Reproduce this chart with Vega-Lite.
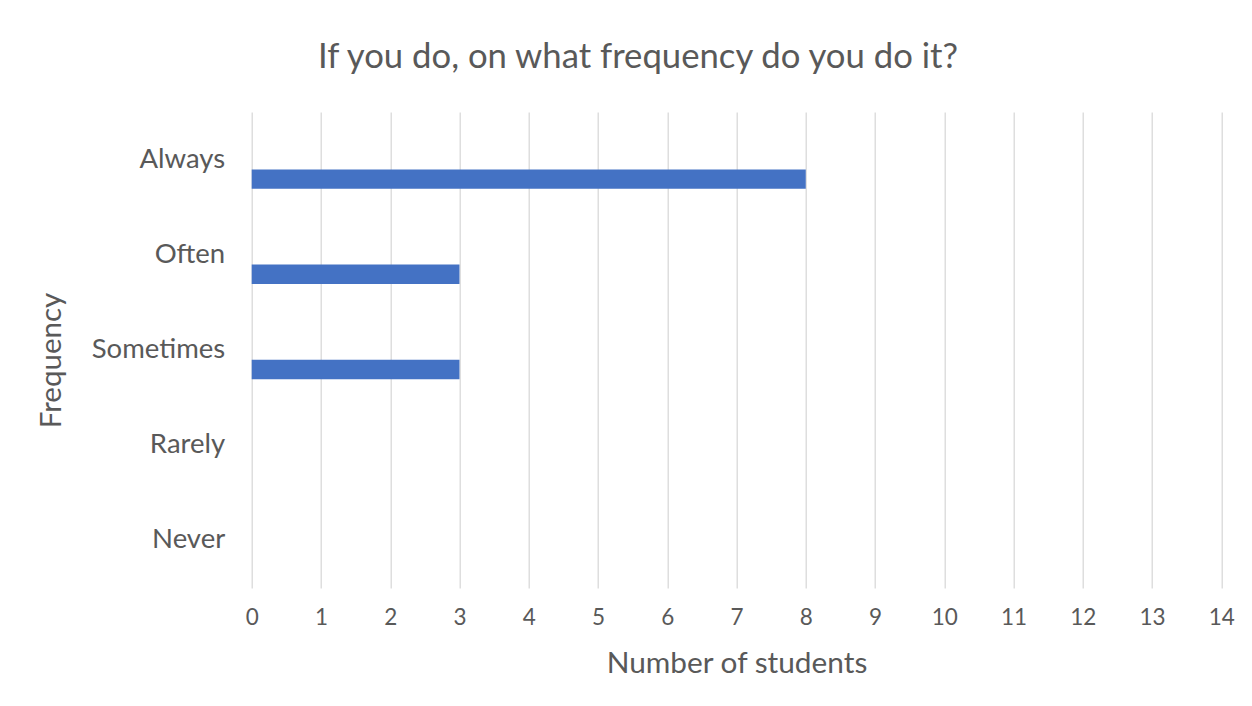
{
  "$schema": "https://vega.github.io/schema/vega-lite/v6.json",
  "autosize": {"type": "none"},
  "width": 969.6,
  "height": 476,
  "padding": {"left": 251.7, "top": 112, "right": 30.7, "bottom": 118},
  "background": "#ffffff",
  "title": {
    "text": "If you do, on what frequency do you do it?",
    "anchor": "middle",
    "frame": "group",
    "dx": -98.5,
    "offset": 36,
    "font": "Lato",
    "fontSize": 34.7,
    "fontWeight": "normal",
    "color": "#595959"
  },
  "data": {
    "values": [
      {"frequency": "Always", "students": 8},
      {"frequency": "Often", "students": 3},
      {"frequency": "Sometimes", "students": 3},
      {"frequency": "Rarely", "students": 0},
      {"frequency": "Never", "students": 0}
    ]
  },
  "mark": {"type": "bar", "color": "#4472C4", "height": 19.4, "yOffset": 19.5},
  "encoding": {
    "y": {
      "field": "frequency",
      "type": "nominal",
      "sort": ["Always", "Often", "Sometimes", "Rarely", "Never"],
      "scale": {"paddingInner": 0, "paddingOuter": 0},
      "axis": {
        "title": "Frequency",
        "titleFont": "Lato",
        "titleFontSize": 29.5,
        "titleFontWeight": "normal",
        "titleColor": "#595959",
        "titleAngle": -90,
        "titleAlign": "center",
        "titleBaseline": "alphabetic",
        "titleX": -191.7,
        "titleY": 248,
        "labelFont": "Lato",
        "labelFontSize": 27.5,
        "labelColor": "#595959",
        "labelPadding": 27,
        "ticks": false,
        "domain": false,
        "grid": false
      }
    },
    "x": {
      "field": "students",
      "type": "quantitative",
      "scale": {"domain": [0, 14], "nice": false},
      "axis": {
        "title": "Number of students",
        "titleFont": "Lato",
        "titleFontSize": 29.8,
        "titleFontWeight": "normal",
        "titleColor": "#595959",
        "titlePadding": 20,
        "values": [0, 1, 2, 3, 4, 5, 6, 7, 8, 9, 10, 11, 12, 13, 14],
        "labelFont": "Lato",
        "labelFontSize": 22.5,
        "labelColor": "#595959",
        "labelPadding": 18,
        "labelFlush": false,
        "ticks": false,
        "domain": false,
        "grid": true,
        "gridColor": "#D9D9D9",
        "gridWidth": 1.3
      }
    }
  },
  "config": {"view": {"stroke": null}}
}
